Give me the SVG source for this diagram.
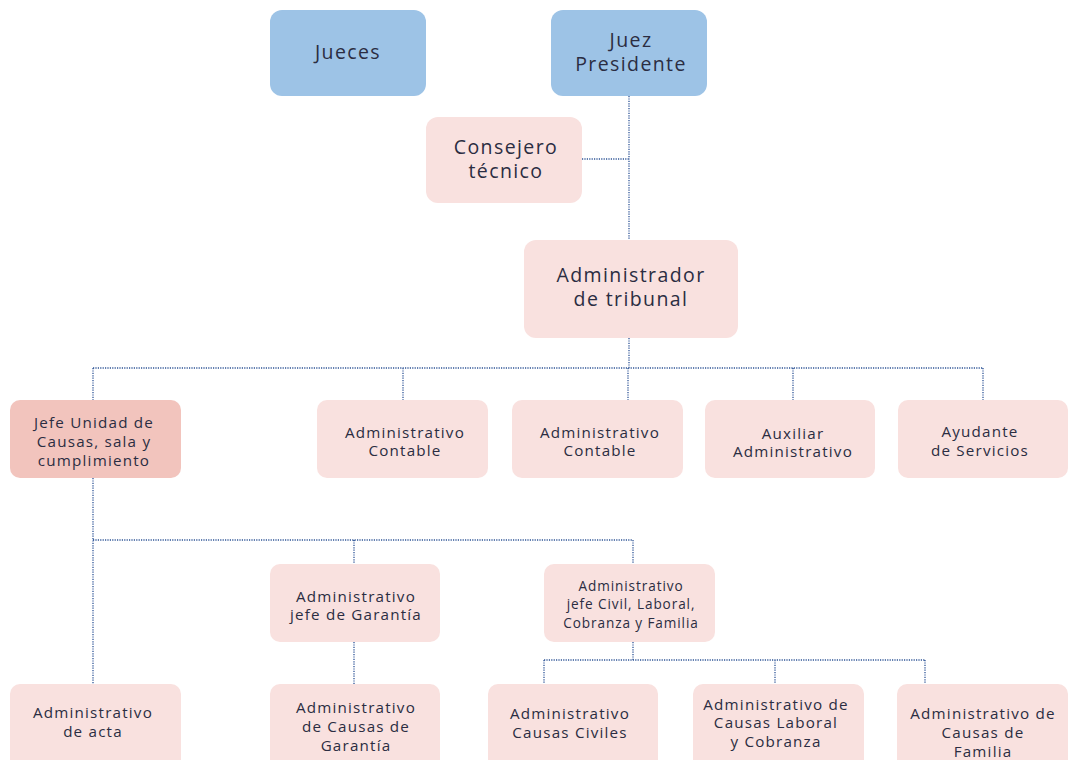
<svg xmlns="http://www.w3.org/2000/svg" width="1070" height="760" viewBox="0 0 1070 760">
<style>
.blue{fill:#9dc3e6}
.pink{fill:#f9e1df}
.dark{fill:#f2c4bd}
text{font-family:"Open Sans","Liberation Sans",sans-serif;fill:#2b2d42;text-anchor:middle}
.t21{font-size:19.5px;letter-spacing:1.4px}
.t16{font-size:15.2px;letter-spacing:1.2px}
.t14{font-size:13.6px;letter-spacing:0.9px}
.c{fill:none;stroke:#2f5597;stroke-width:1.3;stroke-dasharray:1.2 1.2}
</style>
<rect width="1070" height="760" fill="#ffffff"/>
<g id="connectors">
<path class="c" d="M629 96V240M582 159H629"/>
<path class="c" d="M629 338V368M93 368H983M93 368V400M403 368V400M628 368V400M793 368V400M983 368V400"/>
<path class="c" d="M93 478V684M93 540H633M354 540V564M633 540V564"/>
<path class="c" d="M354 642V684"/>
<path class="c" d="M633 642V660M544 660H925M544 660V684M775 660V684M925 660V684"/>
</g>
<g id="jueces"><rect class="blue" x="270" y="10" width="156" height="86" rx="12"/><text class="t21" x="348" y="59">Jueces</text></g>
<g id="juez-presidente"><rect class="blue" x="551" y="10" width="156" height="86" rx="12"/><text class="t21" x="631" y="47">Juez</text><text class="t21" x="631" y="71">Presidente</text></g>
<g id="consejero"><rect class="pink" x="426" y="117" width="156" height="86" rx="12"/><text class="t21" x="506" y="154">Consejero</text><text class="t21" x="506" y="178">técnico</text></g>
<g id="administrador"><rect class="pink" x="524" y="240" width="214" height="98" rx="12"/><text class="t21" x="631" y="282">Administrador</text><text class="t21" x="631" y="306">de tribunal</text></g>
<g id="jefe-unidad"><rect class="dark" x="10" y="400" width="171" height="78" rx="10"/><text class="t16" x="94" y="428">Jefe Unidad de</text><text class="t16" x="94" y="447">Causas, sala y</text><text class="t16" x="94" y="466">cumplimiento</text></g>
<g id="adm-contable-1"><rect class="pink" x="317" y="400" width="171" height="78" rx="10"/><text class="t16" x="405" y="438">Administrativo</text><text class="t16" x="405" y="456">Contable</text></g>
<g id="adm-contable-2"><rect class="pink" x="512" y="400" width="171" height="78" rx="10"/><text class="t16" x="600" y="438">Administrativo</text><text class="t16" x="600" y="456">Contable</text></g>
<g id="auxiliar"><rect class="pink" x="705" y="400" width="170" height="78" rx="10"/><text class="t16" x="793" y="439">Auxiliar</text><text class="t16" x="793" y="457">Administrativo</text></g>
<g id="ayudante"><rect class="pink" x="898" y="400" width="170" height="78" rx="10"/><text class="t16" x="980" y="437">Ayudante</text><text class="t16" x="980" y="456">de Servicios</text></g>
<g id="adm-jefe-garantia"><rect class="pink" x="270" y="564" width="170" height="78" rx="10"/><text class="t16" x="356" y="602">Administrativo</text><text class="t16" x="356" y="620">jefe de Garantía</text></g>
<g id="adm-jefe-civil"><rect class="pink" x="544" y="564" width="171" height="78" rx="10"/><text class="t14" x="631" y="591">Administrativo</text><text class="t14" x="631" y="609">jefe Civil, Laboral,</text><text class="t14" x="631" y="628">Cobranza y Familia</text></g>
<g id="adm-acta"><rect class="pink" x="10" y="684" width="171" height="90" rx="10"/><text class="t16" x="93" y="718">Administrativo</text><text class="t16" x="93" y="737">de acta</text></g>
<g id="adm-causas-garantia"><rect class="pink" x="270" y="684" width="170" height="90" rx="10"/><text class="t16" x="356" y="713">Administrativo</text><text class="t16" x="356" y="732">de Causas de</text><text class="t16" x="356" y="751">Garantía</text></g>
<g id="adm-causas-civiles"><rect class="pink" x="488" y="684" width="170" height="90" rx="10"/><text class="t16" x="570" y="719">Administrativo</text><text class="t16" x="570" y="738">Causas Civiles</text></g>
<g id="adm-causas-laboral"><rect class="pink" x="693" y="684" width="171" height="90" rx="10"/><text class="t16" x="776" y="710">Administrativo de</text><text class="t16" x="776" y="728">Causas Laboral</text><text class="t16" x="776" y="747">y Cobranza</text></g>
<g id="adm-causas-familia"><rect class="pink" x="897" y="684" width="171" height="90" rx="10"/><text class="t16" x="983" y="719">Administrativo de</text><text class="t16" x="983" y="738">Causas de</text><text class="t16" x="983" y="757">Familia</text></g>
</svg>
